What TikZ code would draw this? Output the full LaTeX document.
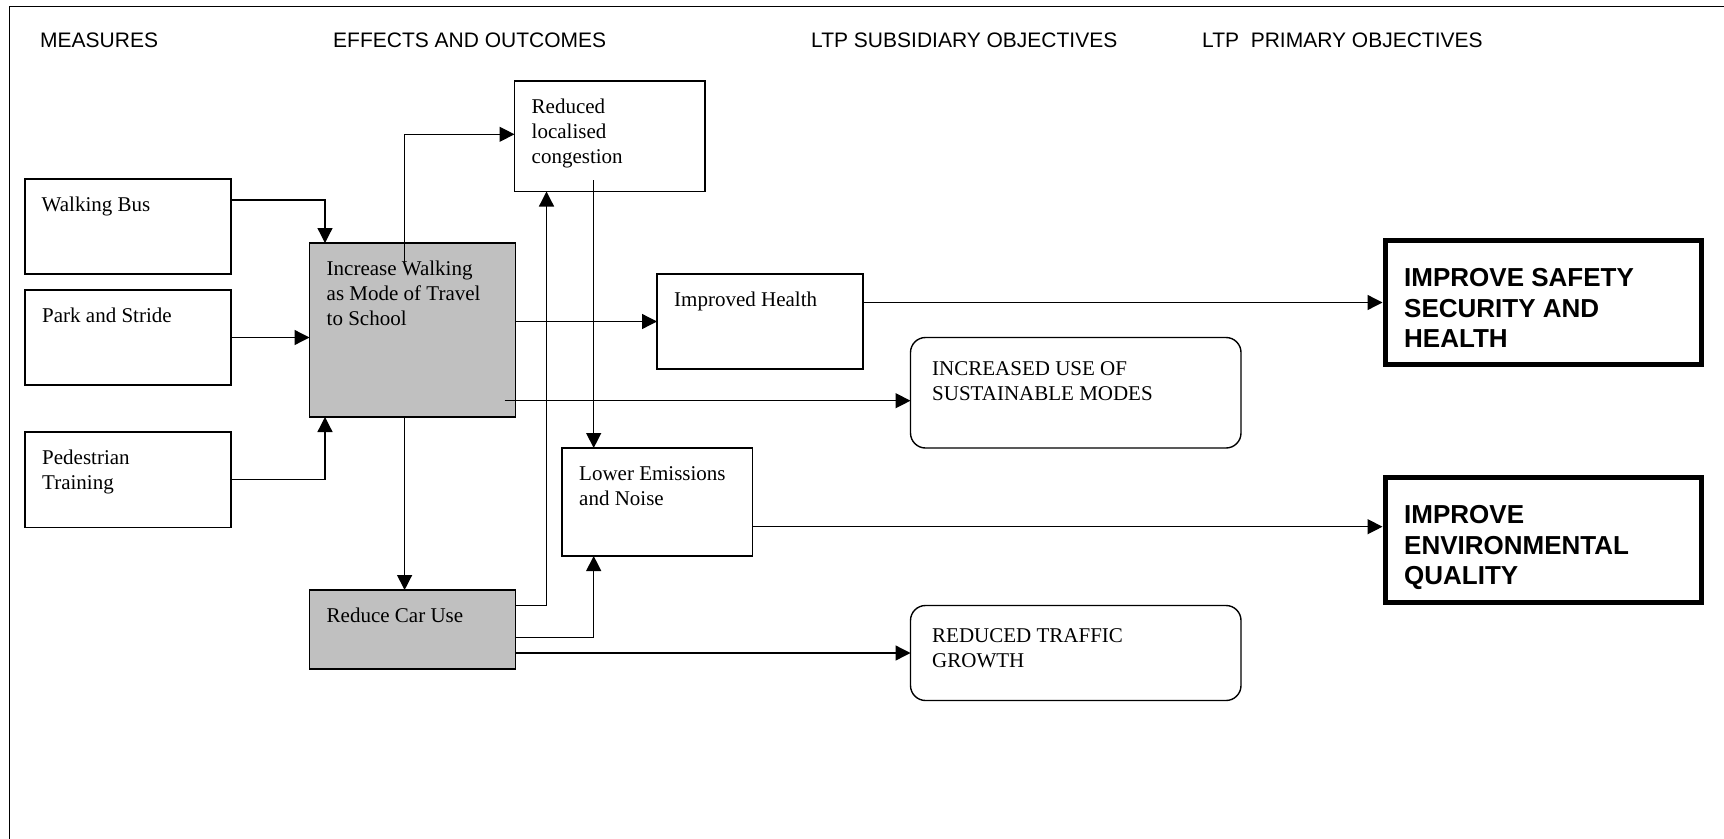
\documentclass[tikz,border=0pt]{standalone}
\usepackage{fontspec}
\setmainfont{Liberation Serif}
\setsansfont{Liberation Sans}
\usetikzlibrary{arrows.meta,calc}
\newcommand\bxfont{\fontsize{21}{25}\selectfont}
\newcommand\hdfont{\sffamily\fontsize{21}{25}\selectfont}
\newcommand\objfont{\sffamily\bfseries\fontsize{26}{30.5}\selectfont}
\newcommand\txtlines[1]{\parbox[t]{400pt}{\raggedright #1}}
\begin{document}
\begin{tikzpicture}[x=1pt,y=-1pt,
  box/.style={draw,line width=1.4pt,inner sep=0pt,outer sep=0pt},
  graybox/.style={box,fill=graybg},
  roundbox/.style={box,rounded corners=15pt},
  objbox/.style={draw,line width=5pt,inner sep=0pt},
  txt/.style={anchor=base west,inner sep=0pt,font=\bxfont},
  hd/.style={anchor=base west,inner sep=0pt,font=\hdfont},
  objtxt/.style={anchor=base west,inner sep=0pt,font=\objfont},
  arr/.style={line width=1.3pt,-{Triangle[length=15pt,width=15pt]}},
  frameline/.style={line width=1.5pt}]
\definecolor{graybg}{HTML}{C0C0C0}
\useasboundingbox (0,0) rectangle (1724,838);
% frame
\draw[frameline] (9.5,840) -- (9.5,6.5) -- (1726,6.5);
% headers
\node[hd] (h1) at (40,47) {MEASURES};
\node[hd] (h2) at (333,47) {EFFECTS AND OUTCOMES};
\node[hd] (h3) at (811,47) {LTP SUBSIDIARY OBJECTIVES};
\node[hd] (h4) at (1202,47) {LTP\ \ PRIMARY OBJECTIVES};
% boxes
\node[box,minimum width=206pt,minimum height=95pt] (wb) at (128,226.5) {};
\node[box,minimum width=206pt,minimum height=95pt] (ps) at (128,337.5) {};
\node[box,minimum width=206pt,minimum height=95.5pt] (pt) at (128,479.75) {};
\node[graybox,minimum width=206pt,minimum height=174pt] (iw) at (412.5,330) {};
\node[graybox,minimum width=206pt,minimum height=79pt] (rc) at (412.5,629.5) {};
\node[box,minimum width=190.5pt,minimum height=110.5pt] (rlc) at (609.75,136.25) {};
\node[box,minimum width=206pt,minimum height=95pt] (ih) at (760,321.5) {};
\node[box,minimum width=190.5pt,minimum height=108pt] (le) at (657.25,502) {};
\node[roundbox,minimum width=330.5pt,minimum height=110.5pt] (ius) at (1075.75,392.75) {};
\node[roundbox,minimum width=330.5pt,minimum height=95pt] (rtg) at (1075.75,653) {};
\node[objbox,minimum width=316.5pt,minimum height=124pt] (iss) at (1543.25,302.5) {};
\node[objbox,minimum width=316.5pt,minimum height=124.5pt] (iev) at (1543.25,539.75) {};
% texts
\node[txt] (wbt) at (41.5,211) {\txtlines{Walking Bus}};
\node[txt] (pst) at (42,322) {\txtlines{Park and Stride}};
\node[txt] (ptt) at (42,464) {\txtlines{Pedestrian\\Training}};
\node[txt] (iwt) at (326.5,275) {\txtlines{Increase Walking\\as Mode of Travel\\to School}};
\node[txt] (rct) at (326.5,622) {\txtlines{Reduce Car Use}};
\node[txt] (rlct) at (531.5,113) {\txtlines{Reduced\\localised\\congestion}};
\node[txt] (iht) at (674,306) {\txtlines{Improved Health}};
\node[txt] (let) at (579,480) {\txtlines{Lower Emissions\\and Noise}};
\node[txt] (iust) at (932,375) {\txtlines{INCREASED USE OF\\SUSTAINABLE MODES}};
\node[txt] (rtgt) at (932,642) {\txtlines{REDUCED TRAFFIC\\GROWTH}};
\node[objtxt] (isst) at (1404,286.5) {\txtlines{IMPROVE SAFETY\\SECURITY AND\\HEALTH}};
\node[objtxt] (ievt) at (1404,523.5) {\txtlines{IMPROVE\\ENVIRONMENTAL\\QUALITY}};
% helper coordinates
\coordinate (j1) at (325,200);
\coordinate (s4) at (404.6,263);
\coordinate (j4) at (404.6,134.3);
\coordinate (s6) at (504.7,400.7);
\coordinate (j8) at (546.5,605.7);
\coordinate (s9) at (593.7,180);
\coordinate (j10) at (593.7,637.3);
\coordinate (j13) at (752,526.7);
% connectors
\draw[arr] (wb.east |- j1) -| (iw.north -| j1);
\draw[arr] (ps.east) -- (iw.west |- ps.east);
\draw[arr] (pt.east) -| (iw.south -| j1);
\draw[arr] (s4) |- (rlc.west |- j4);
\draw[arr] (iw.east |- ih.west) -- (ih.west);
\draw[arr] (s6) -- (ius.west |- s6);
\draw[arr] (iw.south -| s4) -- (rc.north -| s4);
\draw[arr] (rc.east |- j8) -| (rlc.south -| j8);
\draw[arr] (s9) -- (le.north -| s9);
\draw[arr] (rc.east |- j10) -| (le.south -| j10);
\draw[arr] (rc.east |- rtg.west) -- (rtg.west);
\draw[arr] (ih.east |- iss.west) -- (iss.west);
\draw[arr] (le.east |- j13) -- (iev.west |- j13);
\end{tikzpicture}
\end{document}
